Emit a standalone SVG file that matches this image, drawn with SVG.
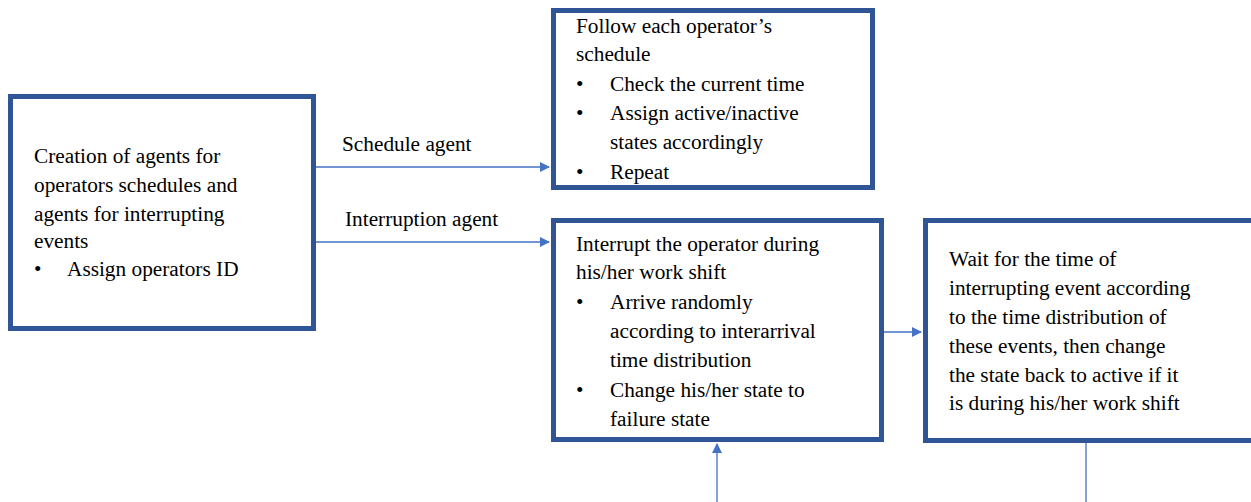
<svg xmlns="http://www.w3.org/2000/svg" width="1251" height="502" viewBox="0 0 1251 502">
<style>
.box{fill:#fff;stroke:#2F5597;stroke-width:5}
.t{font-family:'Liberation Serif','Times New Roman',serif;font-size:21.3px;fill:#000}
.c{stroke:#4472C4;stroke-width:1.3;fill:none}
</style>
<defs>
<marker id="ah" markerWidth="10" markerHeight="10" refX="9" refY="5" orient="auto" markerUnits="userSpaceOnUse">
<path d="M0,0 L10,5 L0,10 Z" fill="#4472C4"/>
</marker>
</defs>
<rect width="1251" height="502" fill="#fff"/>
<g id="connectors">
<line class="c" x1="316" y1="167" x2="549" y2="167" marker-end="url(#ah)"/>
<line class="c" x1="316" y1="242" x2="549" y2="242" marker-end="url(#ah)"/>
<line class="c" x1="884" y1="332" x2="921" y2="332" marker-end="url(#ah)"/>
<line class="c" x1="717" y1="502" x2="717" y2="444" marker-end="url(#ah)"/>
<line class="c" x1="1086" y1="443" x2="1086" y2="502"/>
</g>
<g id="n1">
<rect class="box" x="10.5" y="96.5" width="303" height="232"/>
<text class="t" x="34" y="163">Creation of agents for</text>
<text class="t" x="34" y="192">operators schedules and</text>
<text class="t" x="34" y="221">agents for interrupting</text>
<text class="t" x="34" y="248">events</text>
<text class="t" x="34" y="276">•</text><text class="t" x="67" y="276">Assign operators ID</text>
</g>
<g id="n2">
<rect class="box" x="553.5" y="10.5" width="319" height="177"/>
<text class="t" x="576" y="33">Follow each operator’s</text>
<text class="t" x="576" y="61">schedule</text>
<text class="t" x="576" y="91">•</text><text class="t" x="610" y="91">Check the current time</text>
<text class="t" x="576" y="120">•</text><text class="t" x="610" y="120">Assign active/inactive</text>
<text class="t" x="610" y="149">states accordingly</text>
<text class="t" x="576" y="179">•</text><text class="t" x="610" y="179">Repeat</text>
</g>
<g id="n3">
<rect class="box" x="553.5" y="220.5" width="328" height="219"/>
<text class="t" x="576" y="251">Interrupt the operator during</text>
<text class="t" x="576" y="279">his/her work shift</text>
<text class="t" x="576" y="309">•</text><text class="t" x="610" y="309">Arrive randomly</text>
<text class="t" x="610" y="338">according to interarrival</text>
<text class="t" x="610" y="367">time distribution</text>
<text class="t" x="576" y="397">•</text><text class="t" x="610" y="397">Change his/her state to</text>
<text class="t" x="610" y="426">failure state</text>
</g>
<g id="n4">
<rect class="box" x="925.5" y="220.5" width="340" height="220"/>
<text class="t" x="949" y="266">Wait for the time of</text>
<text class="t" x="949" y="295">interrupting event according</text>
<text class="t" x="949" y="324">to the time distribution of</text>
<text class="t" x="949" y="353">these events, then change</text>
<text class="t" x="949" y="382">the state back to active if it</text>
<text class="t" x="949" y="410">is during his/her work shift</text>
</g>
<g id="labels">
<text class="t" x="342" y="151">Schedule agent</text>
<text class="t" x="345" y="226">Interruption agent</text>
</g>
</svg>
